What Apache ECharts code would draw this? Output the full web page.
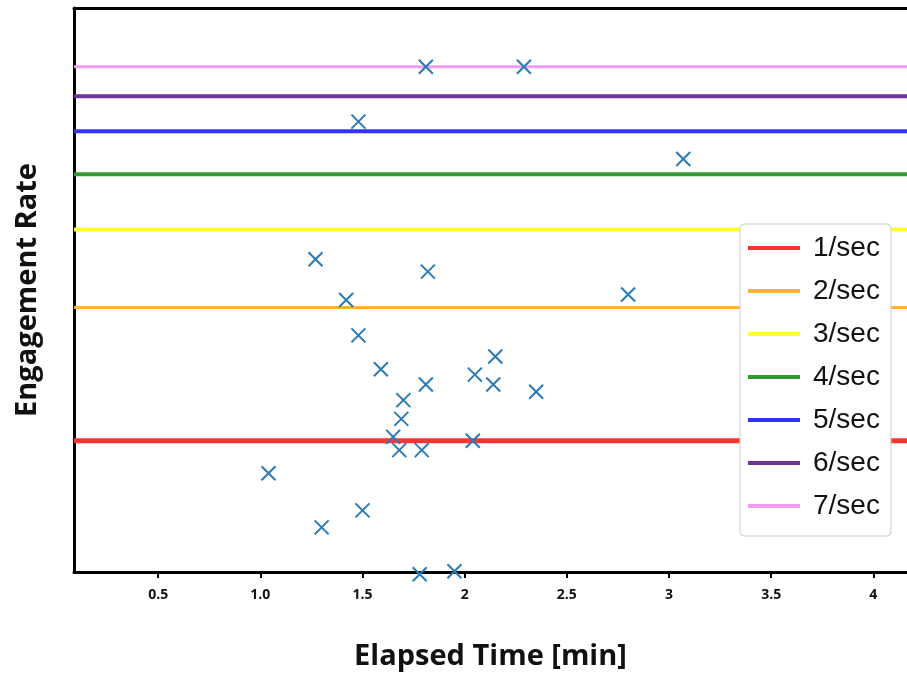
<!DOCTYPE html>
<html>
<head>
<meta charset="utf-8">
<script src="https://cdn.jsdelivr.net/npm/echarts@6/dist/echarts.min.js"></script>
<style>
	html, body { margin: 0; padding: 0; background: #fff; }
	#chart { width: 907px; height: 678px; }
</style>
</head>
<body>
<div id="chart"></div>
<script>
// elapsed time [min] of each post
var timeMin = [1.81, 2.29, 1.48, 3.07, 1.27, 1.82, 1.42, 2.80, 1.48, 1.59,
	2.15, 2.05, 1.81, 2.14, 2.35, 1.70, 1.69, 1.65, 1.68, 1.79,
	2.04, 1.04, 1.50, 1.30, 1.78, 1.95];
// engagement rate (log axis)
var engRate = [7.0, 7.0, 5.26, 4.33, 2.57, 2.41, 2.08, 2.14, 1.73, 1.45,
	1.55, 1.41, 1.34, 1.34, 1.29, 1.235, 1.12, 1.02, 0.952, 0.952,
	1.0, 0.844, 0.696, 0.637, 0.499, 0.507];
// reference rate lines
var rateNames = ['1/sec', '2/sec', '3/sec', '4/sec', '5/sec', '6/sec', '7/sec'];
var rateValues = [1, 2, 3, 4, 5, 6, 7];
var rateColors = ['#ff3333', '#ffb233', '#ffff33', '#339933', '#3333ff', '#703399', '#f29bf2'];
var rateWidths = [5, 3, 4, 4, 4, 4, 3];
// x axis ticks
var tickValues = [0.5, 1, 1.5, 2, 2.5, 3, 3.5, 4];
var tickLabels = ['0.5', '1.0', '1.5', '2', '2.5', '3', '3.5', '4'];

var xMin = 0.088, xMax = 4.165;

var chart = echarts.init(document.getElementById('chart'));

var series = [];
for (var i = 0; i < rateNames.length; i++) {
	series.push({
		name: rateNames[i],
		type: 'line',
		data: [[xMin, rateValues[i]], [xMax, rateValues[i]]],
		symbol: 'none',
		silent: true,
		animation: false,
		z: 2,
		lineStyle: {
			color: rateColors[i],
			width: rateWidths[i]
		},
		itemStyle: {
			color: rateColors[i]
		}
	});
}
var points = [];
for (var j = 0; j < timeMin.length; j++) {
	points.push([timeMin[j], engRate[j]]);
}
series.push({
	name: 'posts',
	type: 'scatter',
	data: points,
	symbol: 'path://M0,0L10,10M10,0L0,10',
	symbolSize: 14,
	clip: false,
	animation: false,
	z: 3,
	itemStyle: {
		color: 'rgba(0,0,0,0)',
		borderColor: '#2a7ab8',
		borderWidth: 2,
		opacity: 1
	}
});

var option = {
	backgroundColor: '#fff',
	animation: false,
	grid: {
		left: 74,
		right: 0,
		top: 8,
		bottom: 106
	},
	legend: {
		data: rateNames,
		orient: 'vertical',
		left: 740,
		top: 224,
		icon: 'rect',
		itemWidth: 52,
		itemHeight: 4,
		itemGap: 15,
		padding: [10, 11, 16, 8],
		backgroundColor: '#fff',
		borderColor: '#cccccc',
		borderWidth: 1,
		borderRadius: 4,
		z: 10,
		selectedMode: false,
		textStyle: {
			fontFamily: 'Liberation Sans',
			fontSize: 28,
			color: '#111',
			padding: [0, 0, 0, 8]
		}
	},
	xAxis: [{
		type: 'value',
		min: xMin,
		max: xMax,
		name: 'Elapsed Time [min]',
		nameLocation: 'middle',
		nameGap: 70,
		nameTextStyle: {
			fontFamily: 'Open Sans',
			fontWeight: 'bold',
			fontSize: 29,
			color: '#111'
		},
		axisLine: {
			lineStyle: { color: '#000', width: 3 }
		},
		axisTick: {
			customValues: tickValues,
			length: 6,
			lineStyle: { color: '#000', width: 2 }
		},
		axisLabel: {
			customValues: tickValues,
			margin: 16,
			fontFamily: 'Open Sans',
			fontWeight: 'bold',
			fontSize: 14,
			color: '#111',
			formatter: function(v){
				var k = tickValues.indexOf(v);
				return k >= 0 ? tickLabels[k] : '';
			}
		},
		splitLine: { show: false }
	}, {
		type: 'value',
		position: 'top',
		min: xMin,
		max: xMax,
		axisLine: {
			lineStyle: { color: '#000', width: 3 }
		},
		axisTick: { show: false },
		axisLabel: { show: false },
		splitLine: { show: false }
	}],
	yAxis: {
		type: 'log',
		min: 0.505,
		max: 9.5,
		name: 'Engagement Rate',
		nameLocation: 'middle',
		nameGap: 32,
		nameTextStyle: {
			fontFamily: 'Open Sans',
			fontWeight: 'bold',
			fontSize: 29,
			color: '#111'
		},
		axisLine: {
			show: true,
			lineStyle: { color: '#000', width: 3 }
		},
		axisTick: { show: false },
		axisLabel: { show: false },
		splitLine: { show: false }
	},
	series: series
};
chart.setOption(option);
</script>
</body>
</html>
